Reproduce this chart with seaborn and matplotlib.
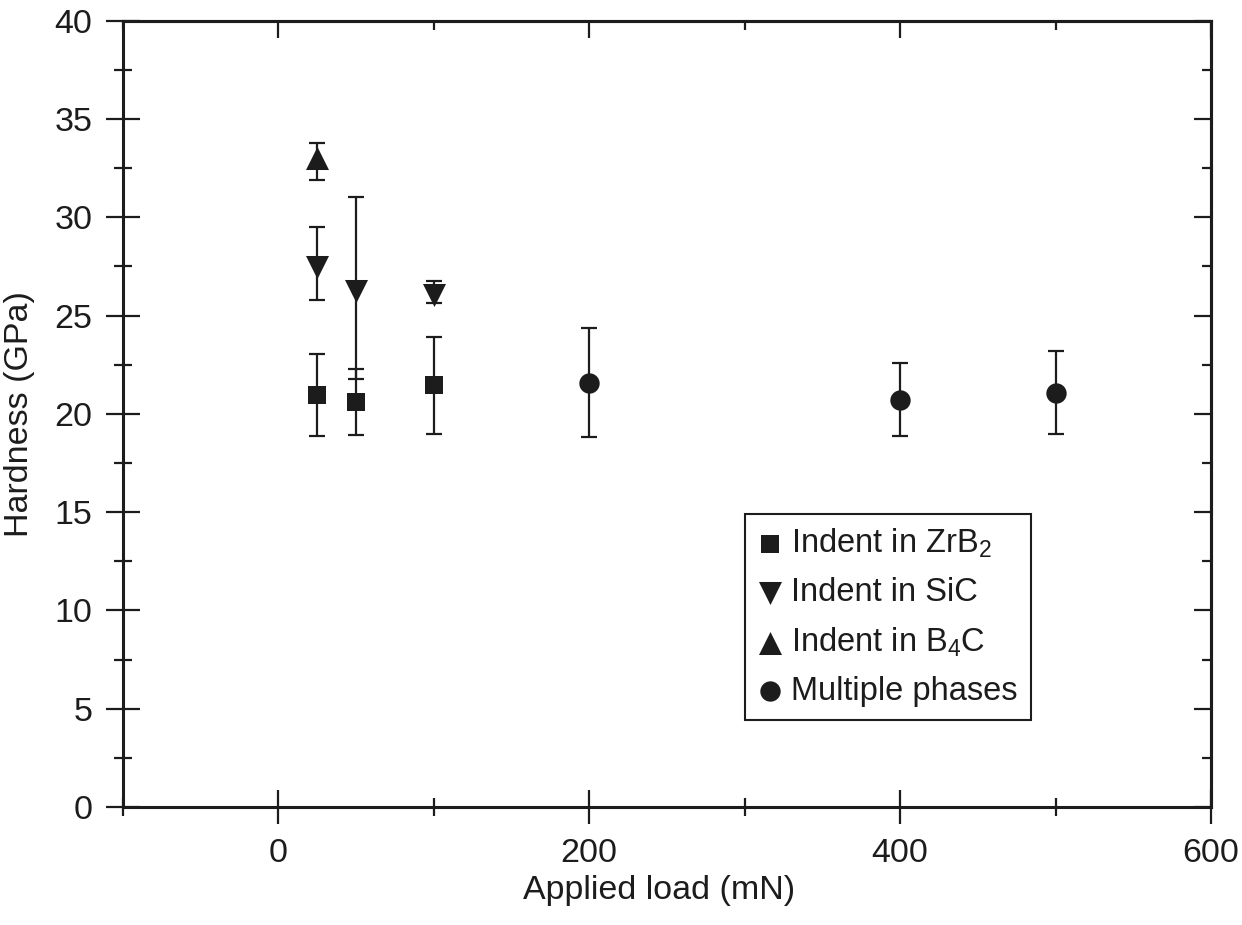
import matplotlib
matplotlib.use('Agg')
import matplotlib.pyplot as plt
import seaborn as sns
import pandas as pd
from matplotlib.ticker import MultipleLocator

# ---- data ----
phase_labels = ['Indent in ZrB$_2$', 'Indent in SiC', 'Indent in B$_4$C', 'Multiple phases']

zrb2_load = [25, 50, 100]
zrb2_hard = [20.95, 20.6, 21.45]
zrb2_err_lo = [2.08, 1.68, 2.47]
zrb2_err_hi = [2.08, 1.68, 2.47]

sic_load = [25, 50, 100]
sic_hard = [27.48, 26.26, 26.04]
sic_err_lo = [1.69, 4.47, 0.42]
sic_err_hi = [2.01, 4.78, 0.73]

b4c_load = [25]
b4c_hard = [33.0]
b4c_err_lo = [1.11]
b4c_err_hi = [0.76]

multi_load = [200, 400, 500]
multi_hard = [21.58, 20.70, 21.07]
multi_err_lo = [2.76, 1.83, 2.10]
multi_err_hi = [2.77, 1.88, 2.12]

x_ticks = [0, 200, 400, 600]
y_ticks = [0, 5, 10, 15, 20, 25, 30, 35, 40]

groups = [
    (phase_labels[0], zrb2_load, zrb2_hard, zrb2_err_lo, zrb2_err_hi),
    (phase_labels[1], sic_load, sic_hard, sic_err_lo, sic_err_hi),
    (phase_labels[2], b4c_load, b4c_hard, b4c_err_lo, b4c_err_hi),
    (phase_labels[3], multi_load, multi_hard, multi_err_lo, multi_err_hi),
]
df = pd.concat([
    pd.DataFrame({'phase': g[0], 'load': g[1], 'hard': g[2], 'lo': g[3], 'hi': g[4]})
    for g in groups
], ignore_index=True)

# ---- style ----
sns.set_style('ticks')
plt.rcParams['font.family'] = ['Liberation Sans', 'DejaVu Sans']
plt.rcParams['mathtext.fontset'] = 'custom'
plt.rcParams['mathtext.rm'] = 'Liberation Sans'
plt.rcParams['mathtext.it'] = 'Liberation Sans'
plt.rcParams['mathtext.default'] = 'regular'

ink = '#1c1c1c'
markers = {phase_labels[0]: 's', phase_labels[1]: 'v', phase_labels[2]: '^', phase_labels[3]: 'o'}
msizes = {phase_labels[0]: 185, phase_labels[1]: 275, phase_labels[2]: 275, phase_labels[3]: 215}

fig = plt.figure(figsize=(12.42, 9.25), dpi=100)
ax = fig.add_axes([0.099, 0.1276, 0.876, 0.850])

for ph in phase_labels:
    sub = df[df['phase'] == ph]
    ax.errorbar(sub['load'], sub['hard'], yerr=[sub['lo'], sub['hi']], fmt='none',
                ecolor=ink, elinewidth=1.6, capsize=5.8, capthick=1.6, zorder=2)
    sns.scatterplot(data=sub, x='load', y='hard', marker=markers[ph], s=msizes[ph],
                    color=ink, edgecolor=ink, linewidth=0, label=ph, ax=ax, zorder=3)

ax.set_xlim(-100, 600)
ax.set_ylim(0, 40)
ax.set_xticks(x_ticks)
ax.set_yticks(y_ticks)
ax.xaxis.set_minor_locator(MultipleLocator(100))
ax.yaxis.set_minor_locator(MultipleLocator(2.5))

fs = 24.5
ax.tick_params(which='major', direction='inout', length=24, width=1.6, color=ink,
               labelsize=fs, labelcolor=ink, pad=10)
ax.tick_params(which='minor', direction='inout', length=13, width=1.6, color=ink)
for sp in ax.spines.values():
    sp.set_linewidth(2.2)
    sp.set_color(ink)

secx = ax.secondary_xaxis('top')
secx.set_xticks(x_ticks)
secx.xaxis.set_minor_locator(MultipleLocator(100))
secx.tick_params(which='major', direction='in', length=12, width=1.6, color=ink, labeltop=False)
secx.tick_params(which='minor', direction='in', length=6.5, width=1.6, color=ink)
secx.spines['top'].set_linewidth(2.2)
secx.spines['top'].set_color(ink)

secy = ax.secondary_yaxis('right')
secy.set_yticks(y_ticks)
secy.yaxis.set_minor_locator(MultipleLocator(2.5))
secy.tick_params(which='major', direction='in', length=12, width=1.6, color=ink, labelright=False)
secy.tick_params(which='minor', direction='in', length=6.5, width=1.6, color=ink)
secy.spines['right'].set_linewidth(2.2)
secy.spines['right'].set_color(ink)

ax.set_xlabel('Applied load (mN)', fontsize=fs, color=ink)
ax.set_ylabel('Hardness (GPa)', fontsize=fs, color=ink)
ax.xaxis.set_label_coords(0.493, -0.086)
ax.yaxis.set_label_coords(-0.081, 0.5)

leg = ax.legend(loc='lower left', bbox_to_anchor=(0.572, 0.111), borderaxespad=0,
                fontsize=23.5, frameon=True, fancybox=False, framealpha=1,
                edgecolor=ink, handlelength=0.7, handletextpad=0.3,
                borderpad=0.4, labelspacing=0.52, markerscale=1.0)
leg.get_frame().set_linewidth(1.5)
for t in leg.get_texts():
    t.set_color(ink)

fig.savefig('out.png', dpi=100)
